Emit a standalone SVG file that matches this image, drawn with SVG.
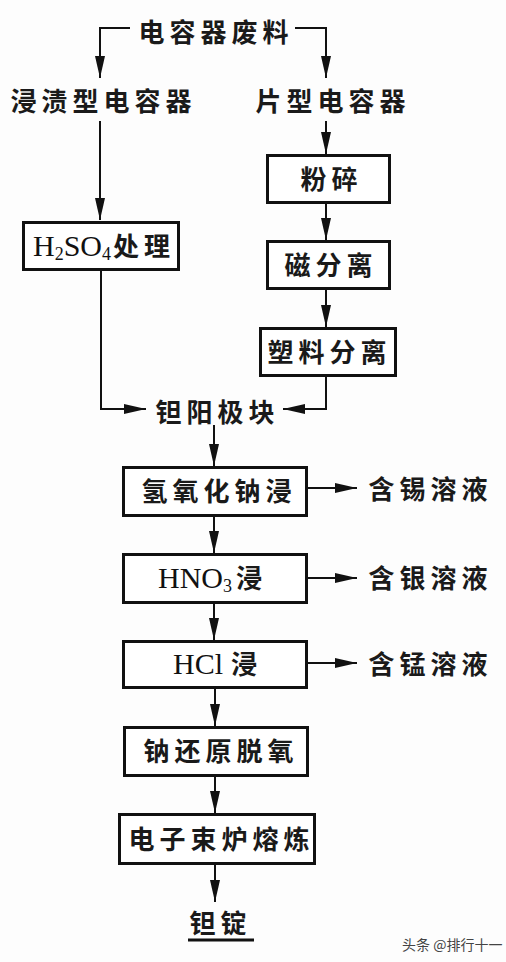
<svg xmlns="http://www.w3.org/2000/svg" width="506" height="962" viewBox="0 0 506 962">
<style>
.bg{fill:#fdfdfd}
.box{fill:#fff;stroke:#111;stroke-width:3}
.cjk{font-family:"Noto Sans CJK SC","Noto Sans CJK JP",sans-serif;font-size:26px;font-weight:700;letter-spacing:5px;fill:#1a1a1a}
.lat{font-family:"Liberation Serif","Times New Roman",serif;font-size:30px;fill:#111;letter-spacing:0}
.sub{font-size:18px}
.ln{fill:none;stroke:#111;stroke-width:2}
.wm{font-family:"Noto Sans CJK SC",sans-serif;font-size:14px;fill:#444}
</style>
<defs>
<marker id="ah" markerUnits="userSpaceOnUse" markerWidth="22" markerHeight="10" refX="22" refY="5" orient="auto">
<path d="M0,0 L22,5 L0,10 z" fill="#111"/>
</marker>
</defs>
<rect class="bg" x="0" y="0" width="506" height="962"/>

<g id="connectors">
<path class="ln" d="M130,28 H100 V78" marker-end="url(#ah)"/>
<path class="ln" d="M295,28 H326 V78" marker-end="url(#ah)"/>
<path class="ln" d="M100,121 V220" marker-end="url(#ah)"/>
<path class="ln" d="M326,121 V154" marker-end="url(#ah)"/>
<path class="ln" d="M326,204 V240" marker-end="url(#ah)"/>
<path class="ln" d="M326,290 V327" marker-end="url(#ah)"/>
<path class="ln" d="M326,377 V409 H283" marker-end="url(#ah)"/>
<path class="ln" d="M101,271 V409 H146" marker-end="url(#ah)"/>
<path class="ln" d="M214,425 V466" marker-end="url(#ah)"/>
<path class="ln" d="M214,517 V553" marker-end="url(#ah)"/>
<path class="ln" d="M214,604 V640" marker-end="url(#ah)"/>
<path class="ln" d="M215,689 V726" marker-end="url(#ah)"/>
<path class="ln" d="M215,777 V813" marker-end="url(#ah)"/>
<path class="ln" d="M215,865 V902" marker-end="url(#ah)"/>
<path class="ln" d="M308,488 H357" marker-end="url(#ah)"/>
<path class="ln" d="M308,578 H357" marker-end="url(#ah)"/>
<path class="ln" d="M308,663 H357" marker-end="url(#ah)"/>
</g>

<g id="n-waste"><text class="cjk" x="138.5" y="42">电容器废料</text></g>
<g id="n-dip"><text class="cjk" x="10.5" y="111">浸渍型电容器</text></g>
<g id="n-chip"><text class="cjk" x="255.5" y="111">片型电容器</text></g>

<g id="n-h2so4">
<rect class="box" x="23.5" y="222.5" width="155" height="47"/>
<text class="lat" x="33" y="256">H<tspan class="sub" dy="4">2</tspan><tspan dy="-4">SO</tspan><tspan class="sub" dy="4">4</tspan><tspan class="cjk" x="113" dy="-4">处理</tspan></text>
</g>
<g id="n-crush">
<rect class="box" x="267.5" y="155.5" width="122" height="47"/>
<text class="cjk" x="300.5" y="189">粉碎</text>
</g>
<g id="n-mag">
<rect class="box" x="267.5" y="241.5" width="122" height="47"/>
<text class="cjk" x="284.5" y="275">磁分离</text>
</g>
<g id="n-plastic">
<rect class="box" x="260.5" y="328.5" width="135" height="47"/>
<text class="cjk" x="267.5" y="362">塑料分离</text>
</g>
<g id="n-anode"><text class="cjk" x="155.5" y="422">钽阳极块</text></g>

<g id="n-naoh">
<rect class="box" x="123.5" y="467.5" width="183" height="48"/>
<text class="cjk" x="141.5" y="501">氢氧化钠浸</text>
</g>
<g id="n-sn"><text class="cjk" x="368.5" y="499">含锡溶液</text></g>

<g id="n-hno3">
<rect class="box" x="123.5" y="554.5" width="183" height="48"/>
<text class="lat" x="158" y="588">HNO<tspan class="sub" dy="4">3</tspan><tspan class="cjk" x="236" dy="-4">浸</tspan></text>
</g>
<g id="n-ag"><text class="cjk" x="368.5" y="588">含银溶液</text></g>

<g id="n-hcl">
<rect class="box" x="123.5" y="641.5" width="183" height="46"/>
<text class="lat" x="173" y="674">HCl<tspan class="cjk" x="231">浸</tspan></text>
</g>
<g id="n-mn"><text class="cjk" x="368.5" y="674">含锰溶液</text></g>

<g id="n-na">
<rect class="box" x="124.5" y="727.5" width="183" height="48"/>
<text class="cjk" x="143.5" y="761">钠还原脱氧</text>
</g>
<g id="n-ebm">
<rect class="box" x="119.5" y="814.5" width="195" height="49"/>
<text class="cjk" x="128.5" y="849">电子束炉熔炼</text>
</g>
<g id="n-ingot">
<text class="cjk" x="189.5" y="933">钽锭</text>
<rect x="188" y="938.5" width="66" height="3" fill="#111"/>
</g>

<text class="wm" x="402" y="950">头条 @排行十一</text>
</svg>
